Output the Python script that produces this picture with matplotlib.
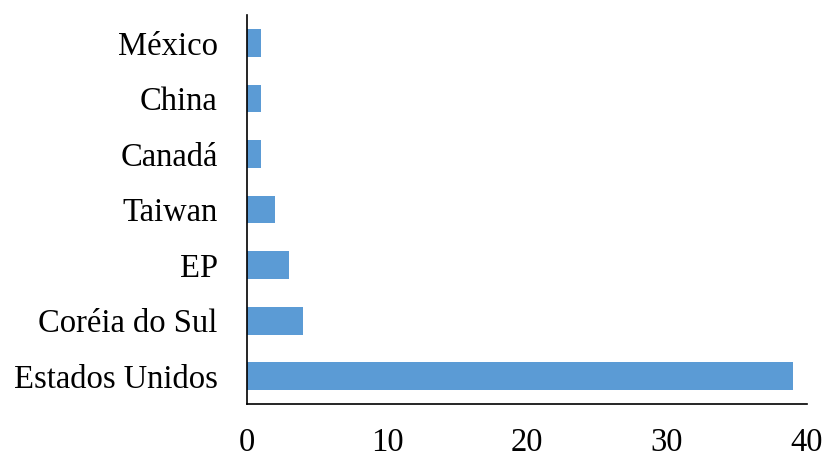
import matplotlib.pyplot as plt

# dados
paises = ['Estados Unidos', 'Coréia do Sul', 'EP', 'Taiwan', 'Canadá', 'China', 'México']
valores = [39, 4, 3, 2, 1, 1, 1]
ticks_x = [0, 10, 20, 30, 40]

plt.rcParams['font.family'] = ['Liberation Serif', 'DejaVu Serif']

fig = plt.figure(figsize=(8.26, 4.57), dpi=100)
ax = fig.add_axes([0.299, 0.116, 0.678, 0.851])

ax.barh(paises, valores, height=0.5, color='#5B9BD5')
ax.set_xlim(0, 40)
ax.set_ylim(-0.5, 6.5)
ax.set_xticks(ticks_x)

ax.spines['top'].set_visible(False)
ax.spines['right'].set_visible(False)
ax.spines['left'].set_linewidth(1.2)
ax.spines['bottom'].set_linewidth(1.2)
ax.tick_params(axis='x', length=0, pad=17, labelsize=23.5)
ax.tick_params(axis='y', length=0, pad=21, labelsize=23.5)

fig.savefig('out.png', dpi=100)
